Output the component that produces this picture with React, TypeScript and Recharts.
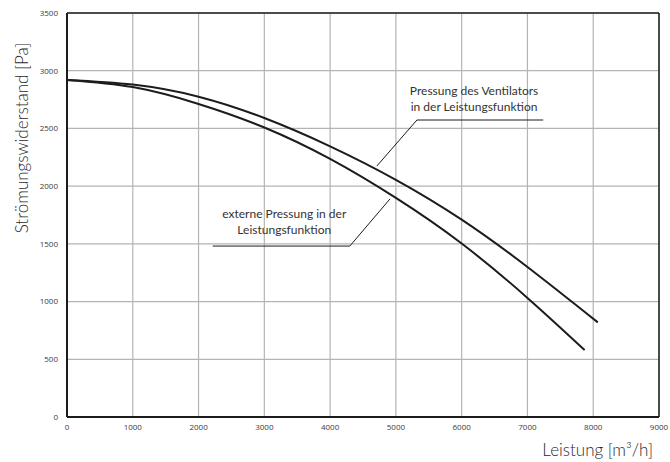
import React from 'react'
import {
  LineChart, Line, XAxis, YAxis, CartesianGrid, ReferenceLine, Label,
} from 'recharts'

// Leistung [m3/h] / Druck [Pa]
const fanFlow = [0, 1000, 2000, 3000, 4000, 5000, 6000, 7000, 8070]
const fanPressure = [2920, 2880, 2775, 2590, 2345, 2055, 1710, 1300, 820]
const extFlow = [0, 1000, 2000, 3000, 4000, 5000, 6000, 7000, 7870]
const extPressure = [2920, 2858, 2712, 2508, 2236, 1898, 1503, 1032, 580]

const xTicks = [0, 1000, 2000, 3000, 4000, 5000, 6000, 7000, 8000, 9000]
const yTicks = [0, 500, 1000, 1500, 2000, 2500, 3000, 3500]

const fanNote = ['Pressung des Ventilators', 'in der Leistungsfunktion']
const extNote = ['externe Pressung in der', 'Leistungsfunktion']

const fanData = fanFlow.map((x, i) => ({ x, y: fanPressure[i] }))
const extData = extFlow.map((x, i) => ({ x, y: extPressure[i] }))

const ink = '#1c1c1c'
const grid = '#b4b4b4'
const tickStyle = { fill: '#3a3a3a', fontSize: 8, fontFamily: '"Open Sans", sans-serif' }

function NoteLabel({ viewBox, lines, dx = 0, dy = 0 }: any) {
  const cx = viewBox.x + viewBox.width / 2 + dx
  const y = viewBox.y + dy
  return (
    <text textAnchor="middle" fontFamily="Lato, sans-serif" fontSize={12} fill="#333">
      {lines.map((t: string, i: number) => (
        <tspan key={i} x={cx} y={y + i * 16}>{t}</tspan>
      ))}
    </text>
  )
}

function YTitle({ viewBox }: any) {
  const x = viewBox.x + 11
  const y = 138
  return (
    <text
      x={x} y={y} transform={`rotate(-90, ${x}, ${y})`}
      textAnchor="middle" dominantBaseline="central"
      fontFamily="Lato, sans-serif" fontSize={17} fontWeight={300} fill="#2a2a2a"
    >
      Strömungswiderstand [Pa]
    </text>
  )
}

export default function App() {
  return (
    <div style={{ width: 670, height: 462, background: '#fff' }}>
      <style>{'body{margin:0}'}</style>
      <LineChart width={670} height={462} margin={{ top: 13, right: 11, left: 10, bottom: 0 }}>
        <CartesianGrid stroke={grid} strokeWidth={1.2} />
        <XAxis
          type="number" dataKey="x" domain={[0, 9000]} ticks={xTicks} height={45}
          tick={tickStyle} tickSize={0} tickMargin={7}
          axisLine={{ stroke: ink, strokeWidth: 2 }}
        >
          <Label
            value="Leistung [m³/h]" position="insideBottomRight" offset={6}
            style={{ fontFamily: 'Lato, sans-serif', fontSize: 17, fontWeight: 300, fill: '#2a2a2a' }}
          />
        </XAxis>
        <YAxis
          type="number" dataKey="y" domain={[0, 3500]} ticks={yTicks} width={57}
          tick={tickStyle} tickSize={0} tickMargin={9}
          axisLine={{ stroke: ink, strokeWidth: 2 }}
        >
          <Label content={<YTitle />} />
        </YAxis>
        <ReferenceLine y={3500} stroke={ink} strokeWidth={1.5} />
        <ReferenceLine x={9000} stroke={ink} strokeWidth={1.5} />

        <Line
          data={fanData} dataKey="y" type="natural" stroke={ink} strokeWidth={2}
          dot={false} isAnimationActive={false}
        />
        <Line
          data={extData} dataKey="y" type="natural" stroke={ink} strokeWidth={2}
          dot={false} isAnimationActive={false}
        />

        <ReferenceLine
          segment={[{ x: 5320, y: 2573 }, { x: 7240, y: 2573 }]}
          stroke={ink} strokeWidth={1}
          label={<NoteLabel lines={fanNote} dx={-6} dy={-25} />}
        />
        <ReferenceLine segment={[{ x: 5320, y: 2573 }, { x: 4710, y: 2174 }]} stroke={ink} strokeWidth={1} />
        <ReferenceLine
          segment={[{ x: 2215, y: 1481 }, { x: 4300, y: 1481 }]}
          stroke={ink} strokeWidth={1}
          label={<NoteLabel lines={extNote} dx={3} dy={-28} />}
        />
        <ReferenceLine segment={[{ x: 4300, y: 1481 }, { x: 4910, y: 1889 }]} stroke={ink} strokeWidth={1} />
      </LineChart>
    </div>
  )
}
